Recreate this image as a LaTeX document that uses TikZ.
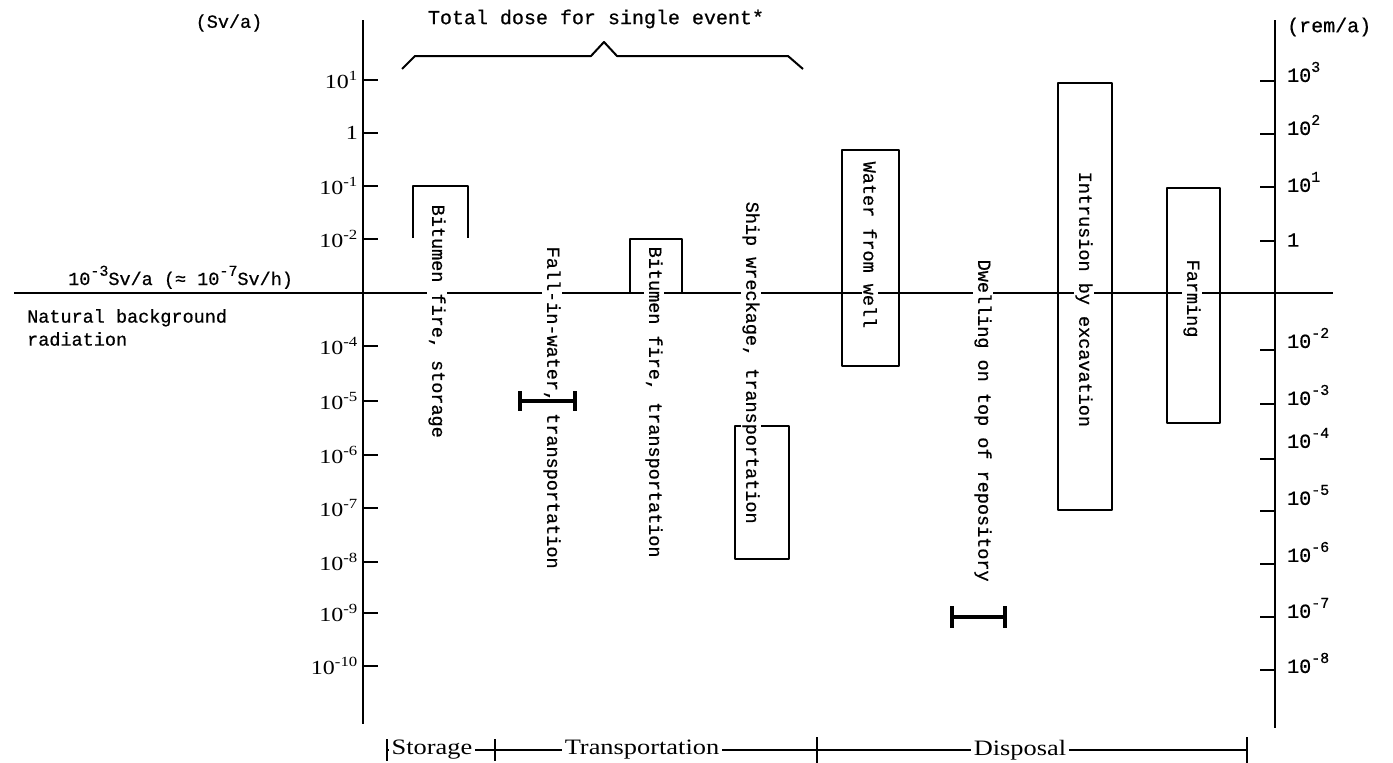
\documentclass[tikz,border=0pt]{standalone}
\usepackage{fontspec}
\setmainfont{Liberation Serif}
\setmonofont[FakeBold=0.6]{Liberation Mono}
\newfontfamily\widefont[FakeStretch=1.2]{Liberation Serif}
\newcommand\highexp[1]{\raisebox{0.5em}{\fontsize{15}{15}\selectfont #1}}
\tikzset{
  axis/.style={line width=2pt},
  dosebox/.style={line width=2.8pt, line join=round},
  errbar/.style={line width=3.4pt},
  event/.style={rotate=-90, anchor=west, fill=white, inner sep=1.5pt,
    font=\ttfamily\fontsize{18.5}{20}\selectfont},
  svlabel/.style={anchor=east, inner sep=0pt, font=\widefont\fontsize{20}{20}\selectfont},
  remlabel/.style={anchor=west, inner sep=0pt, font=\ttfamily\fontsize{20}{20}\selectfont},
  phase/.style={fill=white, inner sep=3pt, font=\widefont\fontsize{22}{22}\selectfont},
  note/.style={align=left, inner sep=0pt, font=\ttfamily\fontsize{18.5}{23}\selectfont},
}
\begin{document}
\begin{tikzpicture}[x=1pt,y=-1pt]
\useasboundingbox (0,0) rectangle (1393,763);

% axes and background level
\coordinate (svtop) at (363,20);
\coordinate (svbot) at (363,724);
\coordinate (remtop) at (1275,20);
\coordinate (rembot) at (1275,728);
\coordinate (bgleft) at (14,293);
\coordinate (bgright) at (1333,293);
\draw[axis] (svtop) -- (svbot);
\draw[axis] (remtop) -- (rembot);
\draw[axis] (bgleft) -- (bgright);

% Sv/a scale
\foreach \y/\lab in {80/10\textsuperscript{1}, 133/1, 186/10\textsuperscript{-1},
    239/10\textsuperscript{-2}, 346/10\textsuperscript{-4}, 401/10\textsuperscript{-5},
    455/10\textsuperscript{-6}, 508/10\textsuperscript{-7}, 562/10\textsuperscript{-8},
    613/10\textsuperscript{-9}, 666/10\textsuperscript{-10}}
  {\draw[axis] (363,\y) -- (378,\y);
   \node[svlabel] at (358,\y) {\lab};}
\node[note, anchor=center] (svunit) at (229,23) {(Sv/a)};

% rem/a scale
\foreach \y/\ly/\lab in {81/72/10\highexp{3}, 134/125/10\highexp{2},
    187/182/10\highexp{1}, 241/240/1, 350/338/10\highexp{-2},
    404/395/10\highexp{-3}, 459/438/10\highexp{-4},
    511/495/10\highexp{-5}, 564/552/10\highexp{-6},
    617/608/10\highexp{-7}, 670/663/10\highexp{-8}}
  {\draw[axis] (1260,\y) -- (1275,\y);
   \node[remlabel] at (1287,\ly) {\lab};}
\node[remlabel] (remunit) at (1287,27) {(rem/a)};

% background labels
\node[note, anchor=base west] (bglevel) at (68,285)
  {10\highexp{-3}Sv/a (≈ 10\highexp{-7}Sv/h)};
\node[note, anchor=north west] (bgnote) at (27,309) {Natural background\\radiation};

% single event brace
\draw[dosebox, line width=2pt] (402,69) -- (415,56) -- (591,56) -- (604,42)
  -- (617,56) -- (788,56) -- (803,69);
\node[note, anchor=center, font=\ttfamily\fontsize{20}{22}\selectfont] (single)
  at (596,19) {Total dose for single event*};

% dose ranges
\draw[dosebox] (413,238) -- (413,186) -- (468,186) -- (468,238);
\draw[dosebox] (630,293) -- (630,239) -- (682,239) -- (682,293);
\draw[dosebox] (735,426) rectangle (789,559);
\draw[dosebox] (842,150) rectangle (899,366);
\draw[dosebox] (1058,83) rectangle (1112,510);
\draw[dosebox] (1167,188) rectangle (1220,423);

% event labels
\node[event] (firestore) at (437,203) {Bitumen fire, storage};
\node[event] (fallwater) at (552,245) {Fall-in-water, transportation};
\node[event] (firetrans) at (654,245) {Bitumen fire, transportation};
\node[event] (ship) at (751,200) {Ship wreckage, transportation};
\node[event] (well) at (870,160) {Water from well};
\node[event] (dwelling) at (983,258) {Dwelling on top of repository};
\node[event] (intrusion) at (1084,170) {Intrusion by excavation};
\node[event] (farming) at (1192,258) {Farming};

% single values
\draw[errbar] (520,401) -- (575,401) (520,391) -- (520,411) (575,391) -- (575,411);
\draw[errbar] (952,617) -- (1005,617) (952,606) -- (952,628) (1005,606) -- (1005,628);

% phases
\coordinate (phleft) at (387,750);
\coordinate (phright) at (1247,750);
\draw[line width=1.5pt] (phleft) -- (phright);
\foreach \x/\h in {387/11, 495/11, 817/13, 1247/13}
  {\draw[line width=1.5pt] (\x,750-\h) -- (\x,750+\h);}
\node[phase] (storage) at (432,750) {Storage};
\node[phase] (transport) at (642,750) {Transportation};
\node[phase] (disposal) at (1020,750) {Disposal};
\end{tikzpicture}
\end{document}
